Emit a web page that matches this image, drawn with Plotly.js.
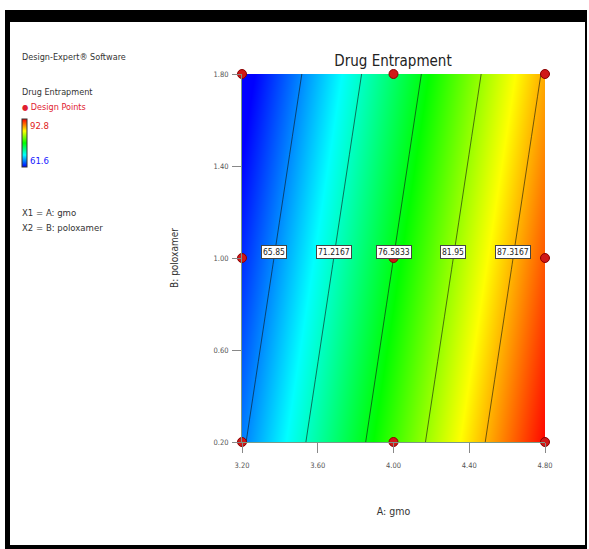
<!DOCTYPE html>
<html>
<head>
<meta charset="utf-8">
<script src="https://cdn.plot.ly/plotly-3.0.1.min.js"></script>
<style>
  html, body { margin: 0; padding: 0; background: #fff; }
  #wrap { position: relative; width: 589px; height: 549px; }
  #chart { position: absolute; left: 0; top: 0; width: 589px; height: 549px; }
  #frame { position: absolute; left: 5px; top: 10px; width: 575px; height: 523px;
           border-style: solid; border-color: #000;
           border-width: 12px 2px 4px 5px; pointer-events: none; }
</style>
</head>
<body>
<div id="wrap">
  <div id="chart"></div>
  <div id="frame"></div>
</div>
<script>
// ---- data ----
const gmo = [3.2, 4.0, 4.8];                 // A: gmo (design levels)
const poloxamer = [0.2, 1.0, 1.8];           // B: poloxamer (design levels)
// predicted Drug Entrapment at the grid (rows = poloxamer, cols = gmo)
const entrapRow02 = [65.48, 79.08, 92.68];
const entrapRow10 = [62.98, 76.58, 90.18];
const entrapRow18 = [60.48, 74.08, 87.68];
const contourLevels = [65.85, 71.2167, 76.5833, 81.95, 87.3167];
const contourLabels = ["65.85", "71.2167", "76.5833", "81.95", "87.3167"];
const xTicks = [3.2, 3.6, 4.0, 4.4, 4.8];
const xTickText = ["3.20", "3.60", "4.00", "4.40", "4.80"];
const yTicks = [0.2, 0.6, 1.0, 1.4, 1.8];
const yTickText = ["0.20", "0.60", "1.00", "1.40", "1.80"];
const responseMin = 61.6, responseMax = 92.8;

const entrap = [entrapRow02, entrapRow10, entrapRow18];

// ---- layout geometry ----
const W = 589, H = 549;
const L = 242, R = 44, T = 74, B = 107;
const pw = W - L - R, ph = H - T - B;
const px2x = p => (p - L) / pw;
const py2y = p => (H - B - p) / ph;

const FONT = '"Liberation Sans Narrow", "DejaVu Sans Condensed", "Roboto Condensed", "Arial Narrow", "Liberation Sans", Arial, sans-serif';

const colorscale = [[0, '#0000ff'], [0.25, '#00ffff'], [0.5, '#00ff00'], [0.75, '#ffff00'], [1, '#ff0000']];

const contour = {
  type: 'contour',
  x: gmo, y: poloxamer, z: entrap,
  zmin: responseMin, zmax: responseMax, zauto: false,
  colorscale: colorscale,
  autocontour: false,
  contours: {
    start: contourLevels[0],
    end: contourLevels[contourLevels.length - 1],
    size: (contourLevels[contourLevels.length - 1] - contourLevels[0]) / (contourLevels.length - 1),
    coloring: 'heatmap',
    showlabels: false
  },
  line: { color: '#111', width: 0.6, smoothing: 0 },
  showscale: false,
  hoverinfo: 'x+y+z'
};

// continuous legend colour bar (smooth gradient), carried by an invisible marker pair
const scaleCarrier = {
  type: 'scatter', mode: 'markers',
  x: [gmo[0], gmo[0]], y: [poloxamer[0], poloxamer[0]],
  marker: {
    size: 0, opacity: 0,
    color: [responseMin, responseMax], cmin: responseMin, cmax: responseMax,
    colorscale: colorscale, showscale: true,
    colorbar: {
      x: px2x(22), xanchor: 'left', xref: 'paper',
      y: py2y(119), yanchor: 'top', yref: 'paper',
      lenmode: 'pixels', len: 48,
      thicknessmode: 'pixels', thickness: 5,
      outlinewidth: 1, outlinecolor: '#333',
      showticklabels: false, ticks: '',
      xpad: 0, ypad: 0, borderwidth: 0
    }
  },
  hoverinfo: 'skip', showlegend: false
};

// design points (all grid combinations)
const dpx = [], dpy = [];
poloxamer.forEach(b => gmo.forEach(a => { dpx.push(a); dpy.push(b); }));
const points = {
  type: 'scatter', mode: 'markers',
  x: dpx, y: dpy, cliponaxis: false,
  marker: { color: '#d01818', size: 9, line: { color: '#8a0000', width: 1 } },
  showlegend: false, hoverinfo: 'x+y'
};

// contour labels placed along the middle row (poloxamer = 1.0) by interpolation of data
const midRow = entrapRow10;
function levelX(level) {
  for (let i = 0; i < gmo.length - 1; i++) {
    const z0 = midRow[i], z1 = midRow[i + 1];
    if ((level - z0) * (level - z1) <= 0) {
      return gmo[i] + (level - z0) / (z1 - z0) * (gmo[i + 1] - gmo[i]);
    }
  }
  return null;
}
const annotations = contourLevels.map((lv, i) => ({
  x: levelX(lv), y: poloxamer[1], xref: 'x', yref: 'y',
  text: contourLabels[i], showarrow: false, yshift: 6,
  font: { family: FONT, size: 8.5, color: '#222' },
  bgcolor: '#ffffff', bordercolor: '#444', borderwidth: 1, borderpad: 1
}));

const leftText = (txt, py, color, size) => ({
  xref: 'paper', yref: 'paper', x: px2x(20), y: py2y(py),
  xanchor: 'left', yanchor: 'middle', showarrow: false,
  text: txt, font: { family: FONT, size: size || 9, color: color || '#333' }
});
annotations.push(leftText('Design-Expert® Software', 57));
annotations.push(leftText('Drug Entrapment', 92));
annotations.push(leftText('<span style="font-size:8px">●</span> Design Points', 107, '#e02030'));
annotations.push({
  xref: 'paper', yref: 'paper', x: px2x(28), y: py2y(126), xanchor: 'left', yanchor: 'middle',
  showarrow: false, text: String(responseMax), font: { family: FONT, size: 9.5, color: '#e02020' }
});
annotations.push({
  xref: 'paper', yref: 'paper', x: px2x(28), y: py2y(160), xanchor: 'left', yanchor: 'middle',
  showarrow: false, text: String(responseMin), font: { family: FONT, size: 9.5, color: '#2020ff' }
});
annotations.push(leftText('X1 = A: gmo', 212, '#333', 9.5));
annotations.push(leftText('X2 = B: poloxamer', 227, '#333', 9.5));

const layout = {
  width: W, height: H,
  margin: { l: L, r: R, t: T, b: B, pad: 0 },
  paper_bgcolor: '#ffffff', plot_bgcolor: '#ffffff',
  showlegend: false,
  title: {
    text: 'Drug Entrapment',
    x: px2x(393), xref: 'paper', xanchor: 'center',
    y: 1 - 61 / H, yref: 'container', yanchor: 'middle',
    font: { family: FONT, size: 15, color: '#222' }
  },
  xaxis: {
    range: [gmo[0], gmo[gmo.length - 1]],
    tickmode: 'array', tickvals: xTicks, ticktext: xTickText,
    ticks: 'outside', ticklen: 10, tickcolor: '#888', tickwidth: 1,
    ticklabelstandoff: 6,
    tickfont: { family: FONT, size: 7.5, color: '#555' },
    showgrid: false, zeroline: false,
    showline: true, linecolor: '#7a9a88', linewidth: 1,
    title: { text: 'A: gmo', standoff: 38, font: { family: FONT, size: 10.5, color: '#333' } }
  },
  yaxis: {
    range: [poloxamer[0], poloxamer[poloxamer.length - 1]],
    tickmode: 'array', tickvals: yTicks, ticktext: yTickText,
    ticks: 'outside', ticklen: 9, tickcolor: '#888', tickwidth: 1,
    ticklabelstandoff: 2,
    tickfont: { family: FONT, size: 7.5, color: '#555' },
    showgrid: false, zeroline: false,
    showline: true, linecolor: '#7a9a88', linewidth: 1,
    title: { text: 'B: poloxamer', standoff: 32, font: { family: FONT, size: 10, color: '#333' } }
  },
  annotations: annotations
};

Plotly.newPlot('chart', [contour, scaleCarrier, points], layout, { displayModeBar: false, staticPlot: true });
</script>
</body>
</html>
